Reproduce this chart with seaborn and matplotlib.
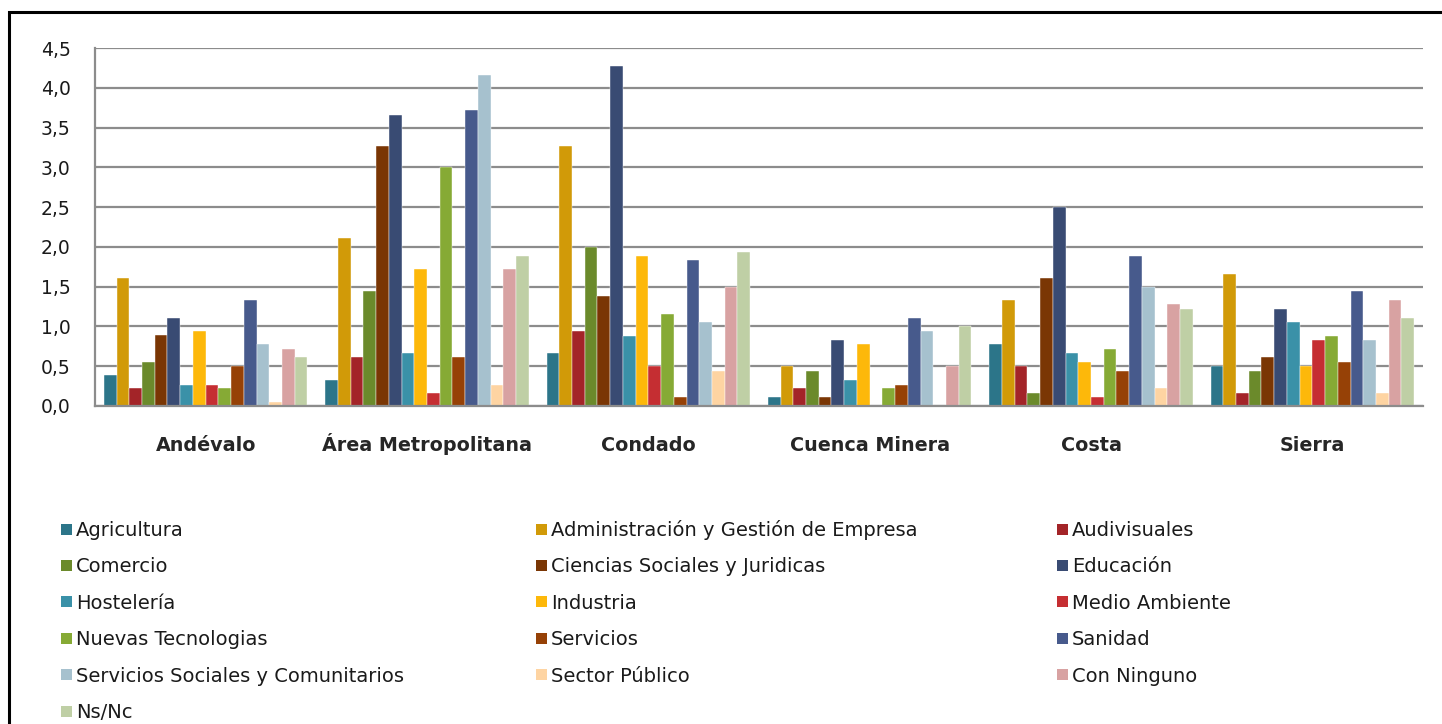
import pandas as pd
import matplotlib
matplotlib.use("Agg")
import matplotlib.pyplot as plt
from matplotlib.patches import Rectangle
from matplotlib.ticker import FuncFormatter, FixedLocator
import seaborn as sns

# Zonas (grupos del eje x)
zonas = ["Andévalo", "Área Metropolitana", "Condado", "Cuenca Minera", "Costa", "Sierra"]

# Valores por sector, en el orden de las zonas
agricultura = [0.39, 0.33, 0.66, 0.11, 0.78, 0.50]
administracion = [1.61, 2.11, 3.27, 0.50, 1.33, 1.66]
audiovisuales = [0.22, 0.61, 0.94, 0.22, 0.50, 0.16]
comercio = [0.55, 1.44, 2.00, 0.44, 0.16, 0.44]
ciencias_sociales = [0.89, 3.27, 1.38, 0.11, 1.61, 0.61]
educacion = [1.11, 3.66, 4.28, 0.83, 2.50, 1.22]
hosteleria = [0.27, 0.66, 0.88, 0.33, 0.66, 1.05]
industria = [0.94, 1.72, 1.89, 0.78, 0.55, 0.50]
medio_ambiente = [0.27, 0.16, 0.50, 0.0, 0.11, 0.83]
nuevas_tecnologias = [0.22, 3.00, 1.16, 0.22, 0.72, 0.88]
servicios = [0.50, 0.61, 0.11, 0.27, 0.44, 0.55]
sanidad = [1.33, 3.72, 1.83, 1.11, 1.89, 1.44]
servicios_sociales = [0.78, 4.16, 1.05, 0.94, 1.50, 0.83]
sector_publico = [0.05, 0.27, 0.44, 0.0, 0.22, 0.16]
con_ninguno = [0.72, 1.72, 1.50, 0.50, 1.28, 1.33]
ns_nc = [0.61, 1.89, 1.94, 1.00, 1.22, 1.11]

sectores = ["Agricultura", "Administración y Gestión de Empresa", "Audivisuales",
            "Comercio", "Ciencias Sociales y Juridicas", "Educación",
            "Hostelería", "Industria", "Medio Ambiente",
            "Nuevas Tecnologias", "Servicios", "Sanidad",
            "Servicios Sociales y Comunitarios", "Sector Público", "Con Ninguno",
            "Ns/Nc"]
valores = [agricultura, administracion, audiovisuales, comercio, ciencias_sociales,
           educacion, hosteleria, industria, medio_ambiente, nuevas_tecnologias,
           servicios, sanidad, servicios_sociales, sector_publico, con_ninguno, ns_nc]
colores = ["#2C7589", "#D19A08", "#A32428", "#6B8A2B", "#7A3604", "#394B73",
           "#3A91A8", "#FDB80A", "#C52E32", "#86AA35", "#964106", "#475A8C",
           "#A6C1CE", "#FED4A2", "#D8A2A2", "#BFCFA5"]

rows = []
for sector, vals in zip(sectores, valores):
    for zona, v in zip(zonas, vals):
        rows.append({"zona": zona, "sector": sector, "valor": v})
df = pd.DataFrame(rows)

sns.set_style("white")
plt.rcParams["font.family"] = ["DejaVu Sans"]

W, H = 1442, 724
fig = plt.figure(figsize=(W / 100, H / 100), dpi=100)
ax = fig.add_axes([95 / W, 1 - 406 / H, (1423 - 95) / W, (406 - 48) / H])

sns.barplot(data=df, x="zona", y="valor", hue="sector", order=zonas,
            hue_order=sectores, palette=colores, saturation=1, width=0.92,
            edgecolor="white", linewidth=0.3, legend=False, ax=ax)

grid_c = "#8C8C8C"
ax.set_ylim(0, 4.5)
ax.set_xlim(-0.5, len(zonas) - 0.5)
ax.set_yticks([i * 0.5 for i in range(10)])
ax.yaxis.set_major_formatter(FuncFormatter(lambda v, p: f"{v:.1f}".replace(".", ",")))
ax.yaxis.grid(True, color=grid_c, linewidth=1.6)
ax.set_axisbelow(True)
ax.tick_params(axis="y", length=5.5, color=grid_c, width=1.2, labelsize=13.5,
               pad=12, labelcolor="#1a1a1a")
ax.tick_params(axis="x", which="major", length=0, pad=32.4)
ax.xaxis.set_minor_locator(FixedLocator([i - 0.5 for i in range(len(zonas) + 1)]))
ax.tick_params(axis="x", which="minor", length=5, color=grid_c, width=1.2, direction="out")
for lab in ax.get_xticklabels():
    lab.set_fontweight("bold")
    lab.set_fontsize(13.8)
    lab.set_verticalalignment("baseline")
ax.set_xlabel("")
ax.set_ylabel("")
for s in ["top", "right"]:
    ax.spines[s].set_visible(False)
for s in ["left", "bottom"]:
    ax.spines[s].set_color(grid_c)
    ax.spines[s].set_linewidth(1.6)

# leyenda en tres columnas, ordenada por filas (dibujada a mano para filas regulares)
col_x = [61, 536, 1057]
for i, (sector, color) in enumerate(zip(sectores, colores)):
    fila, col = divmod(i, 3)
    cy = 529 + 36.4 * fila
    x0 = col_x[col]
    fig.add_artist(Rectangle((x0 / W, 1 - (cy + 5.5) / H), 11 / W, 11 / H,
                             transform=fig.transFigure, facecolor=color,
                             edgecolor="none"))
    fig.text((x0 + 15) / W, 1 - (cy + 7) / H, sector, fontsize=14,
             va="baseline", ha="left", color="#1a1a1a")

# marco negro exterior
fig.add_artist(Rectangle((8.5 / W, -0.1), 1.2, 1.1 - 12.5 / H,
                         transform=fig.transFigure, fill=False,
                         edgecolor="black", linewidth=2.2))

fig.savefig("out.png", dpi=100)
